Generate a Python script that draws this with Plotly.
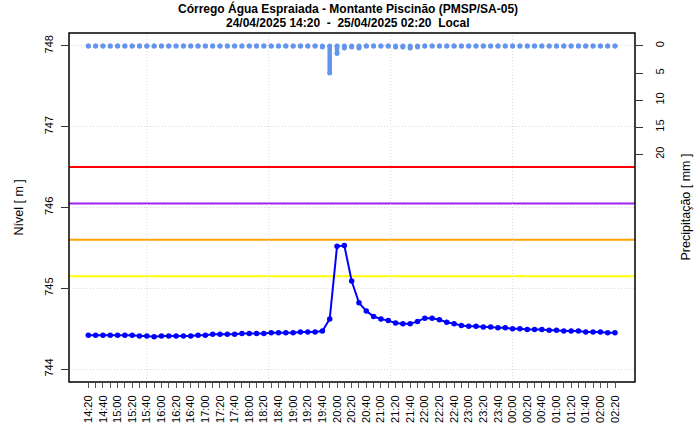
import pandas as pd
import plotly.graph_objects as go

# ---------------- data ----------------
times = pd.date_range("2025-04-24 14:20", "2025-04-25 02:20", freq="10min")

level_m = [
    744.42, 744.42, 744.42, 744.42, 744.42, 744.42, 744.42, 744.41, 744.41, 744.40,
    744.41, 744.41, 744.41, 744.41, 744.41, 744.42, 744.42, 744.43, 744.43, 744.43,
    744.43, 744.44, 744.44, 744.44, 744.44, 744.45, 744.45, 744.45, 744.45, 744.46,
    744.46, 744.46, 744.47, 744.62, 745.52, 745.53,
    745.09, 744.82, 744.72, 744.65, 744.62, 744.60, 744.57, 744.56, 744.56, 744.59,
    744.63, 744.63, 744.61, 744.58, 744.56, 744.54, 744.53, 744.53, 744.52, 744.52,
    744.51, 744.51, 744.50, 744.50, 744.49, 744.49, 744.49, 744.48, 744.48, 744.47,
    744.47, 744.47, 744.46, 744.46, 744.46, 744.45, 744.45,
]

precip_mm = [
    0, 0, 0, 0, 0, 0, 0, 0, 0, 0,
    0, 0, 0, 0, 0, 0, 0, 0, 0, 0,
    0, 0, 0, 0, 0, 0, 0, 0, 0, 0,
    0, 0, 0.2, 5.0, 1.4, 0.4, 0.2, 0.4, 0, 0,
    0, 0, 0.2, 0.2, 0.4, 0.2, 0, 0, 0, 0,
    0, 0, 0, 0, 0, 0, 0, 0, 0, 0,
    0, 0, 0, 0, 0, 0, 0, 0, 0, 0,
    0, 0, 0,
]

tick_labels = [
    "14:20", "14:40", "15:00", "15:20", "15:40", "16:00", "16:20", "16:40", "17:00",
    "17:20", "17:40", "18:00", "18:20", "18:40", "19:00", "19:20", "19:40", "20:00",
    "20:20", "20:40", "21:00", "21:20", "21:40", "22:00", "22:20", "22:40", "23:00",
    "23:20", "23:40", "00:00", "00:20", "00:40", "01:00", "01:20", "01:40", "02:00",
    "02:20",
]

thresholds = [746.50, 746.05, 745.60, 745.15]
threshold_colors = ["#FF0000", "#A020F0", "#FFA500", "#FFFF00"]

level_ticks = [744, 745, 746, 747, 748]
precip_ticks = [0, 5, 10, 15, 20]

grid_times = ["2025-04-24 15:40:00", "2025-04-24 18:26:40", "2025-04-24 21:13:20",
              "2025-04-25 00:00:00", "2025-04-25 02:46:40"]

# ---------------- figure ----------------
FONT = "Liberation Sans, Arial, Helvetica, sans-serif"
PRECIP_COLOR = "#6495ED"
GRID_COLOR = "#D9D9D9"

fig = go.Figure()

# precipitation: vertical sticks with rounded ends
seg_x, seg_y = [], []
for t, p in zip(times, precip_mm):
    if p > 0:
        seg_x += [t, t, None]
        seg_y += [0, p, None]
fig.add_trace(go.Scatter(x=seg_x, y=seg_y, mode="lines", yaxis="y2",
                         line=dict(color=PRECIP_COLOR, width=4.5),
                         hoverinfo="skip", showlegend=False))
fig.add_trace(go.Scatter(x=times, y=[0] * len(times), mode="markers", yaxis="y2",
                         marker=dict(color=PRECIP_COLOR, size=5),
                         hoverinfo="skip", showlegend=False))
fig.add_trace(go.Scatter(x=times, y=precip_mm, mode="markers", yaxis="y2",
                         marker=dict(color=PRECIP_COLOR, size=5),
                         showlegend=False))

# water level
fig.add_trace(go.Scatter(x=times, y=level_m, mode="lines+markers",
                         line=dict(color="#0000FF", width=2),
                         marker=dict(color="#0000FF", size=5.5),
                         showlegend=False))

# threshold lines
for v, c in zip(thresholds, threshold_colors):
    fig.add_hline(y=v, line=dict(color=c, width=2), layer="below")

# vertical dotted grid
for g in grid_times:
    fig.add_shape(type="line", xref="x", yref="paper", x0=g, x1=g, y0=0, y1=1,
                  line=dict(color=GRID_COLOR, width=1, dash="1px,2px"), layer="below")

# frame
fig.add_shape(type="rect", xref="paper", yref="paper", x0=0, x1=1, y0=0, y1=1,
              line=dict(color="black", width=1.5), layer="above")

fig.update_layout(
    width=695, height=437,
    margin=dict(l=69, r=60, t=33, b=55),
    paper_bgcolor="white", plot_bgcolor="white",
    font=dict(family=FONT, color="black"),
    showlegend=False,
    xaxis=dict(
        type="date",
        range=["2025-04-24 13:53:36", "2025-04-25 02:47:20"],
        tickmode="array", tickvals=list(times[::2]), ticktext=tick_labels,
        tickangle=-90, ticks="outside", ticklen=5, tickcolor="#555", tickwidth=1,
        tickfont=dict(size=11, family=FONT),
        ticklabelstandoff=3,
        minor=dict(tickmode="array", tickvals=list(times), ticks="outside",
                   ticklen=5, tickcolor="#555", tickwidth=1, showgrid=False),
        showgrid=False, zeroline=False, showline=False,
    ),
    yaxis=dict(
        range=[743.84, 748.16],
        tickmode="array", tickvals=level_ticks,
        tickangle=-90, ticks="outside", ticklen=7, tickcolor="#333",
        tickfont=dict(size=11, family=FONT),
        ticklabelstandoff=4,
        showgrid=True, gridcolor=GRID_COLOR, griddash="1px,2px", gridwidth=1,
        zeroline=False, showline=False,
    ),
    yaxis2=dict(
        overlaying="y", side="right",
        range=[62.0, -2.38],
        tickmode="array", tickvals=precip_ticks,
        tickangle=-90, ticks="outside", ticklen=7, tickcolor="#333",
        tickfont=dict(size=11, family=FONT),
        ticklabelstandoff=8,
        showgrid=False, zeroline=False, showline=False,
    ),
    annotations=[
        dict(text="<b>Córrego Água Espraiada - Montante Piscinão (PMSP/SA-05)</b>",
             xref="paper", yref="paper", x=0.493, y=(382 - 9) / 349,
             xanchor="center", yanchor="middle", showarrow=False,
             font=dict(size=12, family=FONT)),
        dict(text="<b>24/04/2025 14:20  -  25/04/2025 02:20  Local</b>",
             xref="paper", yref="paper", x=0.493, y=(382 - 23) / 349,
             xanchor="center", yanchor="middle", showarrow=False,
             font=dict(size=12, family=FONT)),
        dict(text="Nível [ m ]", textangle=-90,
             xref="paper", yref="paper", x=(18 - 69) / 566, y=0.5,
             xanchor="center", yanchor="middle", showarrow=False,
             font=dict(size=12.5, family=FONT)),
        dict(text="Precipitação [ mm ]", textangle=-90,
             xref="paper", yref="paper", x=(685 - 69) / 566, y=0.5,
             xanchor="center", yanchor="middle", showarrow=False,
             font=dict(size=12.5, family=FONT)),
    ],
)

# remove the browser's default 8 px body margin so the figure fills the window
fig.write_html("out.html",
               config={"displayModeBar": False, "staticPlot": False},
               post_script="document.body.style.margin='0px';"
                           "document.body.style.overflow='hidden';")
